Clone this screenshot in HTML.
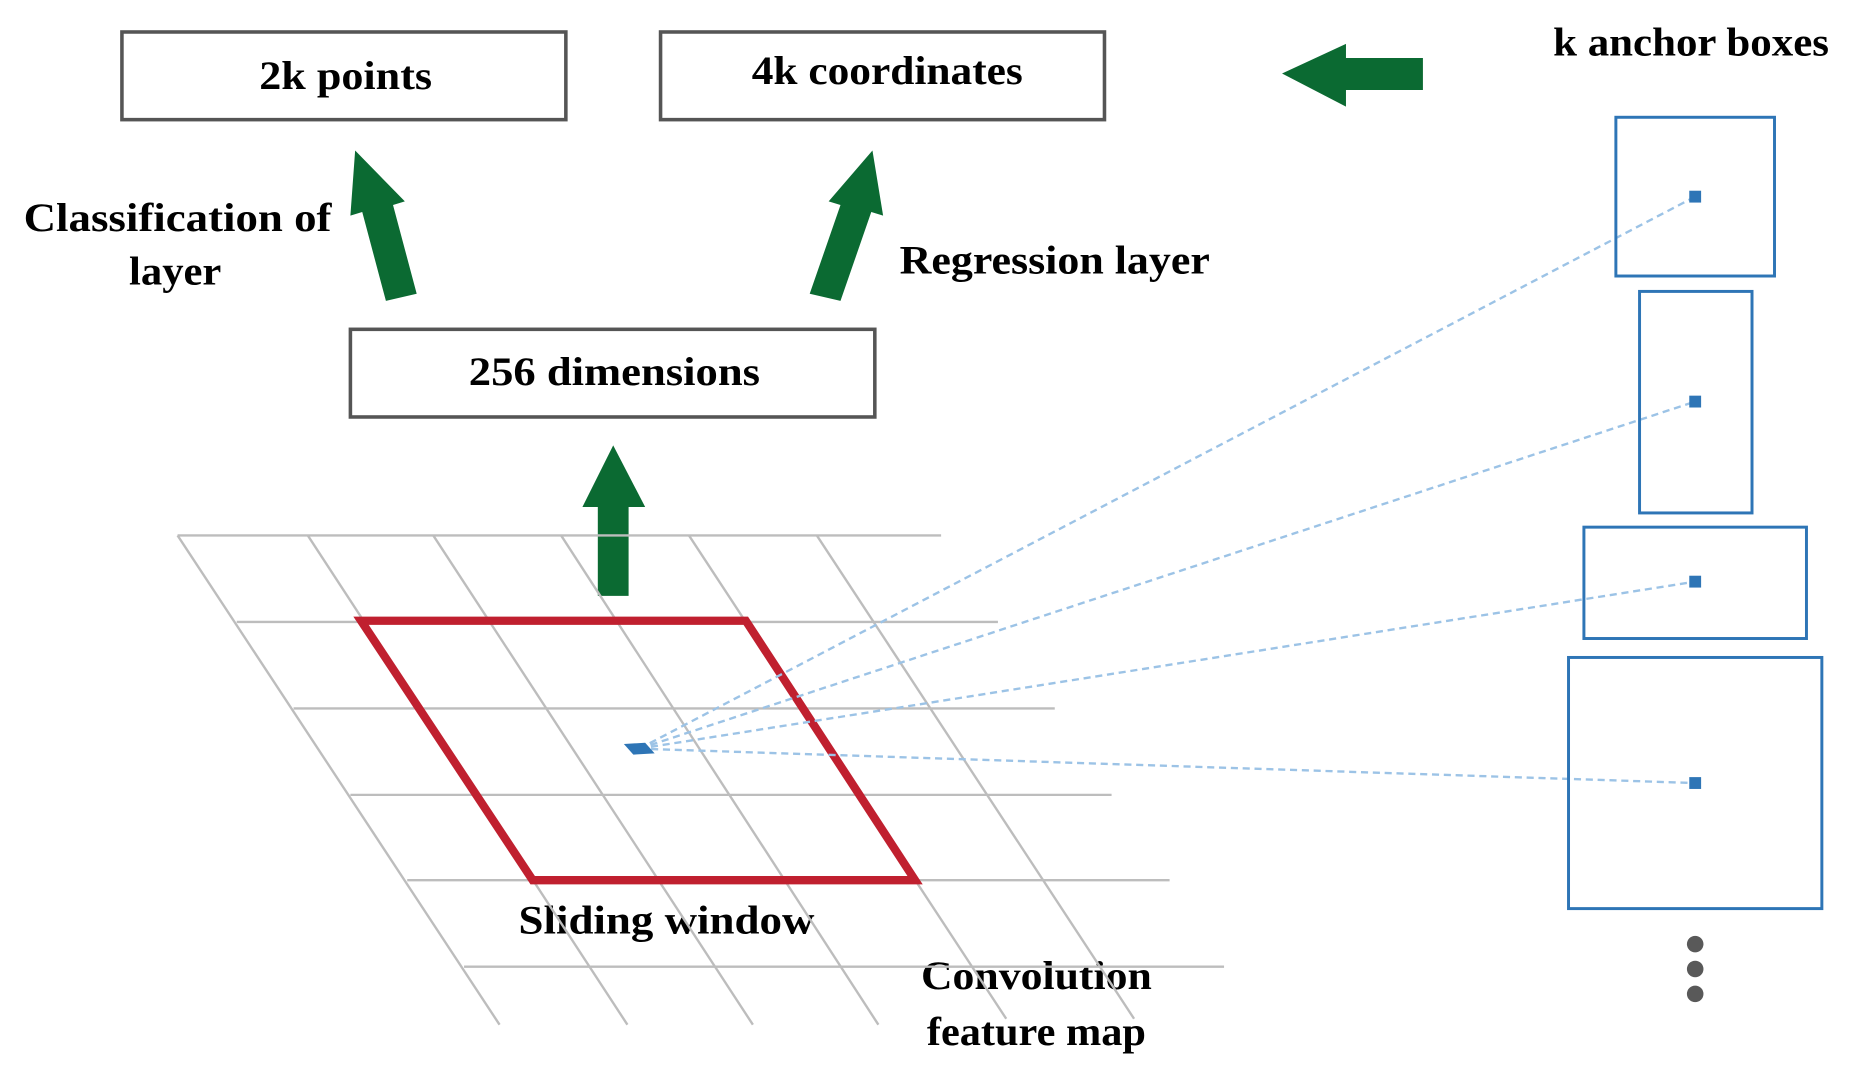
<!DOCTYPE html>
<html><head><meta charset="utf-8"><style>html,body{margin:0;padding:0;background:#fff}svg{display:block}</style></head>
<body>
<svg width="1855" height="1078" viewBox="0 0 1567 910" preserveAspectRatio="none" xmlns="http://www.w3.org/2000/svg">
<g font-family="Liberation Serif, serif" font-weight="bold" font-size="34" fill="#000">
<rect x="103" y="27" width="375" height="74" fill="#fff" stroke="#555" stroke-width="3"/>
<rect x="558" y="27" width="375" height="74" fill="#fff" stroke="#555" stroke-width="3"/>
<rect x="296" y="278" width="443" height="74" fill="#fff" stroke="#555" stroke-width="3"/>
<text x="219" y="75" textLength="146" lengthAdjust="spacingAndGlyphs">2k points</text>
<text x="635" y="71" textLength="229" lengthAdjust="spacingAndGlyphs">4k coordinates</text>
<text x="396" y="325" textLength="246" lengthAdjust="spacingAndGlyphs">256 dimensions</text>
<text x="1312" y="47" textLength="233" lengthAdjust="spacingAndGlyphs">k anchor boxes</text>
<text x="20" y="195" textLength="260" lengthAdjust="spacingAndGlyphs">Classification of</text>
<text x="109" y="240" textLength="78" lengthAdjust="spacingAndGlyphs">layer</text>
<text x="760" y="231" textLength="262" lengthAdjust="spacingAndGlyphs">Regression layer</text>
<text x="438" y="788" textLength="250" lengthAdjust="spacingAndGlyphs">Sliding window</text>
<text x="778" y="835" textLength="195" lengthAdjust="spacingAndGlyphs">Convolution</text>
<text x="783" y="882" textLength="185" lengthAdjust="spacingAndGlyphs">feature map</text>
</g>
<g fill="#0b6a32">
<polygon points="1083,62 1137,37 1137,49 1202,49 1202,76 1137,76 1137,90"/>
<polygon points="518,376 545,428 531,428 531,503 505,503 505,428 492,428"/>
<polygon points="300,127 342,170 332,173 352,248 326,254 306,179 296,182"/>
<polygon points="737,127 746,182 736,179 710,254 684,248 710,173 700,170"/>
</g>
<g stroke="#bdbdbd" stroke-width="2" fill="none">
<line x1="150" y1="452" x2="795" y2="452"/>
<line x1="200" y1="525" x2="843" y2="525"/>
<line x1="248" y1="598" x2="891" y2="598"/>
<line x1="296" y1="671" x2="939" y2="671"/>
<line x1="344" y1="743" x2="988" y2="743"/>
<line x1="392" y1="816" x2="1034" y2="816"/>
<line x1="150" y1="452" x2="422" y2="865"/>
<line x1="260" y1="452" x2="530" y2="865"/>
<line x1="366" y1="452" x2="636" y2="865"/>
<line x1="474" y1="452" x2="742" y2="865"/>
<line x1="582" y1="452" x2="850" y2="860"/>
<line x1="690" y1="452" x2="958" y2="860"/>
</g>
<polygon points="305,524 630,524 773,743 450,743" fill="none" stroke="#c0202f" stroke-width="7" stroke-linejoin="miter"/>
<g stroke="#9cc3e6" stroke-width="2" stroke-dasharray="6,4" fill="none">
<line x1="540" y1="632" x2="1432" y2="166"/>
<line x1="540" y1="632" x2="1432" y2="339"/>
<line x1="540" y1="632" x2="1432" y2="491"/>
<line x1="540" y1="632" x2="1432" y2="661"/>
</g>
<polygon points="527,628 545,627 553,636 535,637" fill="#2e75b6"/>
<g stroke="#2e75b6" stroke-width="2.5" fill="none">
<rect x="1365" y="99" width="134" height="134"/>
<rect x="1385" y="246" width="95" height="187"/>
<rect x="1338" y="445" width="188" height="94"/>
<rect x="1325" y="555" width="214" height="212"/>
</g>
<g fill="#2e75b6">
<rect x="1427" y="161" width="10" height="10"/>
<rect x="1427" y="334" width="10" height="10"/>
<rect x="1427" y="486" width="10" height="10"/>
<rect x="1427" y="656" width="10" height="10"/>
</g>
<g fill="#595959">
<circle cx="1432" cy="797" r="7"/>
<circle cx="1432" cy="818" r="7"/>
<circle cx="1432" cy="839" r="7"/>
</g>
</svg>
</body></html>
